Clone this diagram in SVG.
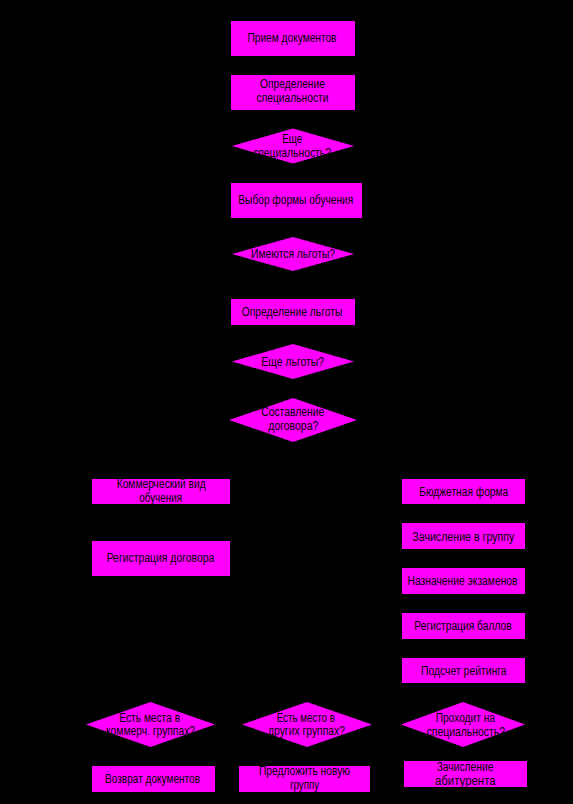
<svg xmlns="http://www.w3.org/2000/svg" width="573" height="804" viewBox="0 0 573 804">
<style>
.n{fill:#FF00FF;stroke:none}
.t{font-family:"Liberation Sans",Arial,sans-serif;font-size:12px;fill:#000;text-anchor:middle}
</style>
<rect x="0" y="0" width="573" height="804" fill="#000"/>
<g id="connectors"></g>
<g id="n1"><rect class="n" x="231" y="21" width="124" height="35"/><text class="t" x="292" y="41.5" textLength="89" lengthAdjust="spacingAndGlyphs">Прием документов</text></g>
<g id="n2"><rect class="n" x="231" y="75" width="124" height="35"/><text class="t" x="292.5" y="87.5" textLength="65" lengthAdjust="spacingAndGlyphs">Определение</text><text class="t" x="292.5" y="101.5" textLength="72" lengthAdjust="spacingAndGlyphs">специальности</text></g>
<g id="n3"><polygon class="n" points="293,128.5 354,146 293,163.5 232,146"/><text class="t" x="292.3" y="142.5" textLength="20" lengthAdjust="spacingAndGlyphs">Еще</text><text class="t" x="292" y="156.5" textLength="78" lengthAdjust="spacingAndGlyphs">специальность?</text></g>
<g id="n4"><rect class="n" x="231" y="183" width="131" height="35"/><text class="t" x="295.8" y="203.5" textLength="115" lengthAdjust="spacingAndGlyphs">Выбор формы обучения</text></g>
<g id="n5"><polygon class="n" points="293,237 354,254 293,271 232,254"/><text class="t" x="293" y="258" textLength="84" lengthAdjust="spacingAndGlyphs">Имеются льготы?</text></g>
<g id="n6"><rect class="n" x="231" y="299" width="124" height="26"/><text class="t" x="292" y="316" textLength="100.7" lengthAdjust="spacingAndGlyphs">Определение льготы</text></g>
<g id="n7"><polygon class="n" points="293,344 354,361.5 293,379 232,361.5"/><text class="t" x="292.7" y="365.5" textLength="63" lengthAdjust="spacingAndGlyphs">Еще льготы?</text></g>
<g id="n8"><polygon class="n" points="293,398 357,420 293,442 229,420"/><text class="t" x="292.7" y="416" textLength="63" lengthAdjust="spacingAndGlyphs">Составление</text><text class="t" x="293.3" y="430" textLength="50" lengthAdjust="spacingAndGlyphs">договора?</text></g>
<g id="n9"><rect class="n" x="92" y="479" width="138" height="25"/><text class="t" x="161.2" y="487.5" textLength="89" lengthAdjust="spacingAndGlyphs">Коммерческий вид</text><text class="t" x="160.7" y="501.5" textLength="43" lengthAdjust="spacingAndGlyphs">обучения</text></g>
<g id="n10"><rect class="n" x="92" y="541" width="138" height="35"/><text class="t" x="160.5" y="562" textLength="107.7" lengthAdjust="spacingAndGlyphs">Регистрация договора</text></g>
<g id="n11"><rect class="n" x="402" y="479" width="123" height="25"/><text class="t" x="463.7" y="495.5" textLength="89" lengthAdjust="spacingAndGlyphs">Бюджетная форма</text></g>
<g id="n12"><rect class="n" x="402" y="523" width="123" height="26"/><text class="t" x="463.3" y="540.5" textLength="102" lengthAdjust="spacingAndGlyphs">Зачисление в группу</text></g>
<g id="n13"><rect class="n" x="402" y="568" width="123" height="26"/><text class="t" x="462.5" y="585" textLength="110" lengthAdjust="spacingAndGlyphs">Назначение экзаменов</text></g>
<g id="n14"><rect class="n" x="402" y="613" width="123" height="26"/><text class="t" x="463" y="629.5" textLength="97.3" lengthAdjust="spacingAndGlyphs">Регистрация баллов</text></g>
<g id="n15"><rect class="n" x="402" y="658" width="123" height="25"/><text class="t" x="463.8" y="674.5" textLength="85.7" lengthAdjust="spacingAndGlyphs">Подсчет рейтинга</text></g>
<g id="n16"><polygon class="n" points="150.5,702 215,724.5 150.5,747 86,724.5"/><text class="t" x="149.7" y="722" textLength="60.7" lengthAdjust="spacingAndGlyphs">Есть места в</text><text class="t" x="150.5" y="735" textLength="89" lengthAdjust="spacingAndGlyphs">коммерч. группах?</text></g>
<g id="n17"><rect class="n" x="92" y="766" width="123" height="26"/><text class="t" x="152.5" y="782.5" textLength="95" lengthAdjust="spacingAndGlyphs">Возврат документов</text></g>
<g id="n18"><polygon class="n" points="307,702 372,724.5 307,747 242,724.5"/><text class="t" x="305.8" y="722" textLength="58.3" lengthAdjust="spacingAndGlyphs">Есть место в</text><text class="t" x="306.5" y="735" textLength="77" lengthAdjust="spacingAndGlyphs">других группах?</text></g>
<g id="n19"><rect class="n" x="239" y="766" width="131" height="26"/><text class="t" x="304.5" y="774.5" textLength="91" lengthAdjust="spacingAndGlyphs">Предложить новую</text><text class="t" x="304.5" y="788.5" textLength="29" lengthAdjust="spacingAndGlyphs">группу</text></g>
<g id="n20"><polygon class="n" points="463,702 525,724.5 463,747 401,724.5"/><text class="t" x="465.3" y="722" textLength="59.3" lengthAdjust="spacingAndGlyphs">Проходит на</text><text class="t" x="465.8" y="735.5" textLength="78.3" lengthAdjust="spacingAndGlyphs">специальность?</text></g>
<g id="n21"><rect class="n" x="404" y="761" width="123" height="26"/><text class="t" x="465" y="771" textLength="56.7" lengthAdjust="spacingAndGlyphs">Зачисление</text><text class="t" x="465.3" y="784.5" textLength="60.7" lengthAdjust="spacingAndGlyphs">абитурента</text></g>
</svg>
